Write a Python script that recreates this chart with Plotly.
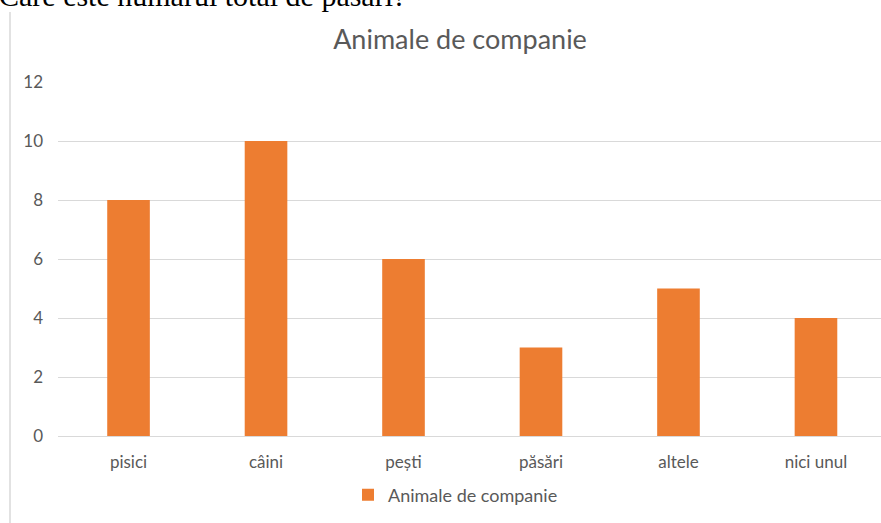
import plotly.graph_objects as go

categories = ["pisici", "câini", "pești", "păsări", "altele", "nici unul"]
values = [8, 10, 6, 3, 5, 4]
series_name = "Animale de companie"
chart_title = "Animale de companie"
question = "Care este numărul total de păsări?"
y_ticks = [0, 2, 4, 6, 8, 10, 12]

W, H = 881, 523
L, R, T, B = 58, 0, 82, 87
pw, ph = W - L - R, H - T - B

def px_x(x):
    return (x - L) / pw

def px_y(y):
    return (H - B - y) / ph

FONT = "Lato, 'Open Sans', sans-serif"
GRAY = "#595959"

fig = go.Figure()
fig.add_trace(go.Bar(
    x=categories, y=values, name=series_name,
    marker=dict(color="#ED7D31", line=dict(width=0)),
    width=0.31, showlegend=True,
))

fig.update_layout(
    width=W, height=H,
    margin=dict(l=L, r=R, t=T, b=B, pad=0),
    paper_bgcolor="white", plot_bgcolor="white",
    font=dict(family=FONT, color=GRAY, size=17),
    title=dict(text=chart_title, x=460 / W, xanchor="center", xref="container",
               y=1 - 40 / H, yanchor="middle", yref="container",
               font=dict(family=FONT, size=27, color=GRAY)),
    showlegend=True,
    legend=dict(orientation="h", x=348 / W, xanchor="left", xref="container",
                y=1 - 495 / H, yanchor="middle", yref="container",
                font=dict(family=FONT, size=18, color=GRAY),
                itemwidth=30, traceorder="normal"),
    xaxis=dict(range=[-0.513, 5.473], showgrid=False, showline=False,
               ticks="", tickfont=dict(family=FONT, size=17, color=GRAY),
               ticklabelstandoff=14, zeroline=False),
    yaxis=dict(range=[0, 12], tickvals=y_ticks, showgrid=True,
               gridcolor="#D9D9D9", gridwidth=1, zeroline=True,
               zerolinecolor="#D9D9D9", zerolinewidth=1, showline=False,
               ticks="", tickfont=dict(family=FONT, size=17, color=GRAY),
               ticklabelstandoff=14),
)

# frame border on the left (chart object edge)
fig.add_shape(type="line", xref="paper", yref="paper",
              x0=px_x(10), x1=px_x(10), y0=px_y(12), y1=px_y(H + 5),
              line=dict(color="#D9D9D9", width=1.5))

# cropped question text at top
fig.add_annotation(text=question, xref="paper", yref="paper",
                   x=px_x(-3), xanchor="left", y=px_y(-4), yanchor="middle",
                   showarrow=False,
                   font=dict(family="Liberation Serif, serif", size=30, color="black"))

fig.write_html("out.html", config={"displayModeBar": False},
               post_script="document.body.style.margin='0';")
